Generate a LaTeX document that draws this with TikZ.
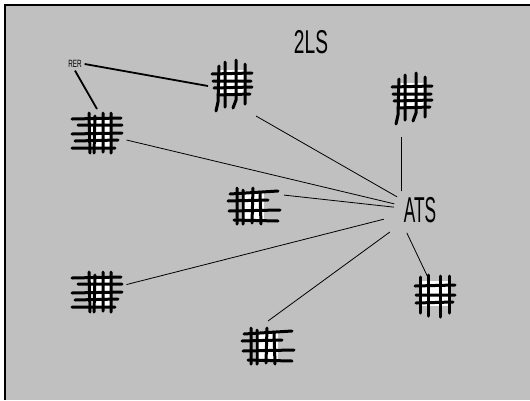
\documentclass[tikz,border=0pt]{standalone}
\usepackage{fontspec}
\usepackage{graphicx}
\newfontfamily\tagfont{Liberation Sans}
\definecolor{panelgray}{HTML}{C0C0C0}
\newcommand{\narrow}[2]{\scalebox{#1}[1]{#2}}

\tikzset{
  hashlegs/.pic={
    \fill[white] (-12,-16) rectangle (12,10);
    \draw[scrawl] (-20,-12) -- (20,-13) (-19,-5) -- (19,-5)
                  (-18,2) -- (20,1) (-14,9) -- (18,8);
    \draw[scrawl] (-13,-20) -- (-14,16) -- (-16,25) (-7,-24) -- (-7,21)
                  (4,-26) -- (4,14) -- (1,22) (13,-22) -- (13,18);
  },
  hashleft/.pic={
    \fill[white] (-9,-15) rectangle (13,16);
    \draw[scrawl] (-25,-14) -- (24,-15) (-19,-8) -- (25,-8) (-25,1) -- (25,0)
                  (-22,8) -- (21,7) (-25,15) -- (18,15);
    \draw[scrawl] (-8,-20) -- (-7,20) (-2,-17) -- (-3,20)
                  (6,-20) -- (6,19) (14,-20) -- (14,20);
  },
  hashright/.pic={
    \fill[white] (-13,-14) rectangle (10,14);
    \draw[scrawl] (-24,-12) -- (24,-15) (-26,-5) -- (14,-6)
                  (-25,5) -- (26,4) (-20,14) -- (24,15);
    \draw[scrawl] (-17,-18) -- (-17,18) (-11,-16) -- (-11,18)
                  (-1,-18) -- (-2,17) (6,-14) -- (7,18);
  },
  hashgrid/.pic={
    \fill[white] (-14,-15) rectangle (13,10);
    \draw[scrawl] (-20,-10) -- (20,-11) (-19,-1) -- (20,-1) (-19,7) -- (18,6);
    \draw[scrawl] (-15,-19) -- (-15,17) (-7,-21) -- (-7,20)
                  (5,-20) -- (5,21) (14,-20) -- (14,17);
  }
}

\begin{document}
\begin{tikzpicture}[x=1pt,y=-1pt,
                    glyph/.style={rectangle,inner sep=0pt,outer sep=4pt},
                    tag/.style={inner sep=0pt,font=\tagfont},
                    link/.style={line width=0.8pt},
                    rerlink/.style={line width=1.8pt},
                    scrawl/.style={line width=3pt,line cap=round}]

  \useasboundingbox (0,0) rectangle (530,400);
  \fill[white] (0,0) rectangle (530,400);
  \fill[panelgray] (5,5) rectangle (530,400);
  \draw[line width=1.6pt] (5,400) -- (5,5) -- (530,5);

  \node[tag,font=\tagfont\fontsize{33}{33}\selectfont] (title) at (311,42) {\narrow{0.58}{2LS}};
  \node[tag,circle,inner sep=4pt,font=\tagfont\fontsize{36}{36}\selectfont] (ats) at (420,210) {\narrow{0.48}{ATS}};
  \node[tag,inner sep=1pt,outer sep=2pt,font=\tagfont\fontsize{10.5}{10.5}\selectfont] (rer) at (75,64) {\narrow{0.6}{RER}};

  \node[glyph,minimum width=40pt,minimum height=52pt] (g1) at (232,86) {};
  \node[glyph,minimum width=40pt,minimum height=52pt] (g2) at (412,99) {};
  \node[glyph,minimum width=51pt,minimum height=40pt] (g3) at (97,133) {};
  \node[glyph,minimum width=52pt,minimum height=37pt] (g4) at (254,206) {};
  \node[glyph,minimum width=51pt,minimum height=40pt] (g5) at (97,292) {};
  \node[glyph,minimum width=47pt,minimum height=42pt] (g6) at (268,346) {};
  \node[glyph,minimum width=40pt,minimum height=42pt] (g7) at (435,296) {};

  \draw[link] (ats) edge (g1.south east)
              (ats.135) edge[shorten >=8pt] (ats.135 |- g2.south)
              (ats) edge (g3)
              (ats) edge (g4.20)
              (ats) edge[shorten <=11pt] (g5)
              (ats) edge[shorten <=11pt] (g6.north)
              (ats.240) edge[shorten >=-11pt] (g7.112);
  \draw[rerlink] (rer.east) edge (g1.west)
                 (rer.south) edge (g3.north);

  \foreach \n/\kind in {g1/hashlegs,g2/hashlegs,g3/hashleft,g4/hashright,
                        g5/hashleft,g6/hashright,g7/hashgrid}
    \pic at (\n) {\kind};
\end{tikzpicture}
\end{document}
